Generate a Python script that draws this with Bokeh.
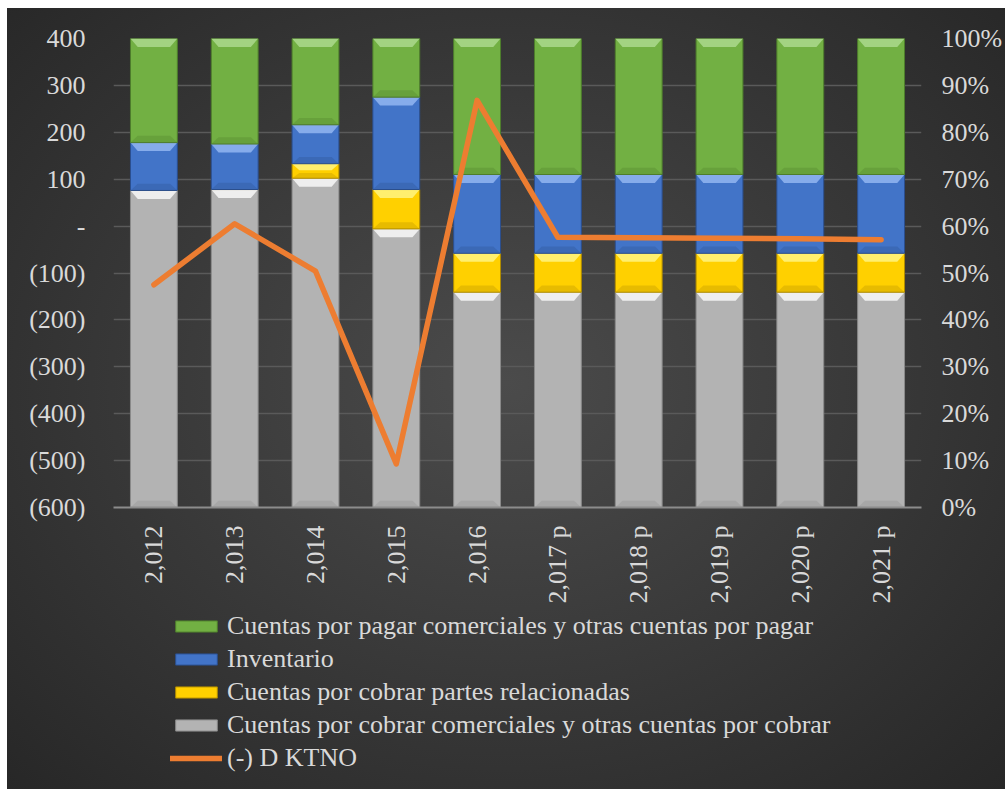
from bokeh.plotting import figure
from bokeh.models import (Range1d, LinearAxis, FixedTicker, FactorRange, Legend,
                          LegendItem, ColumnDataSource)
from bokeh.layouts import column
from bokeh.embed import file_html
from bokeh.resources import INLINE
import math

# ---------------- data ----------------
years = ["2,012", "2,013", "2,014", "2,015", "2,016",
         "2,017 p", "2,018 p", "2,019 p", "2,020 p", "2,021 p"]
# 100% stacked shares (percent of each bar), bottom to top
cxc_comerciales = [67.6, 67.8, 70.2, 59.4, 45.9, 45.9, 45.9, 45.9, 45.9, 45.9]
cxc_relacionadas = [0.0, 0.0, 3.1, 8.4, 8.3, 8.3, 8.3, 8.3, 8.3, 8.3]
inventario = [10.2, 9.7, 8.3, 19.7, 16.8, 16.8, 16.8, 16.8, 16.8, 16.8]
cxp_comerciales = [22.2, 22.5, 18.4, 12.5, 29.0, 29.0, 29.0, 29.0, 29.0, 29.0]
# (-) D KTNO on the left axis
ktno = [-125, 5, -96, -507, 268, -24, -25, -26, -27, -29]

left_ticks = [-600, -500, -400, -300, -200, -100, 0, 100, 200, 300, 400]
left_labels = ["(600)", "(500)", "(400)", "(300)", "(200)", "(100)", "-",
               "100", "200", "300", "400"]
right_ticks = [0, 10, 20, 30, 40, 50, 60, 70, 80, 90, 100]
right_labels = ["0%", "10%", "20%", "30%", "40%", "50%", "60%", "70%", "80%",
                "90%", "100%"]

series = [
    ("Cuentas por cobrar comerciales y otras cuentas por cobrar", cxc_comerciales,
     "#b3b3b3", "#f4f4f4", "#8a8a8a"),
    ("Cuentas por cobrar partes relacionadas", cxc_relacionadas,
     "#ffd000", "#fff27a", "#b08c00"),
    ("Inventario", inventario, "#4274c8", "#8eb2ee", "#2b4f8f"),
    ("Cuentas por pagar comerciales y otras cuentas por pagar", cxp_comerciales,
     "#72b043", "#a9d78a", "#4e7d2c"),
]
line_name = "(-) D KTNO"
line_color = "#ed7d31"

FONT = "'Liberation Serif', 'Times New Roman', serif"
TXT = "#d9d9d9"

p = figure(x_range=FactorRange(*years), y_range=Range1d(-600, 400),
           frame_width=808, frame_height=469,
           output_backend="svg", toolbar_location=None,
           min_border_left=106, min_border_right=84, min_border_top=30,
           min_border_bottom=104)
p.background_fill_alpha = 0
p.border_fill_alpha = 0
p.outline_line_color = None
p.extra_y_ranges = {"pct": Range1d(0, 100)}

BW = 0.58
bottoms = [0.0] * len(years)
for name, vals, col, hi, edge in series:
    tops = [b + v for b, v in zip(bottoms, vals)]
    src = ColumnDataSource(dict(x=years, bottom=bottoms, top=tops))
    p.vbar(x="x", bottom="bottom", top="top", width=BW, source=src,
           fill_color=col, line_color=edge, line_width=1, y_range_name="pct")
    # bevel highlight (top chamfer) and darker bottom edge, derived from the data
    xs, ys, xs2, ys2 = [], [], [], []
    for c, b, t in zip(years, bottoms, tops):
        if t - b <= 0.05:
            continue
        h = min(1.8, (t - b) * 0.45)
        d = 0.09
        xs.append([(c, -BW / 2), (c, BW / 2), (c, BW / 2 - d), (c, -BW / 2 + d)])
        ys.append([t, t, t - h, t - h])
        xs2.append([(c, -BW / 2), (c, BW / 2), (c, BW / 2 - d), (c, -BW / 2 + d)])
        ys2.append([b, b, b + h * 0.8, b + h * 0.8])
    p.patches(xs, ys, fill_color=hi, line_color=None, fill_alpha=0.9, y_range_name="pct")
    p.patches(xs2, ys2, fill_color=edge, line_color=None, fill_alpha=0.3, y_range_name="pct")
    bottoms = tops

p.line(x=years, y=ktno, line_color=line_color, line_width=5.5,
       line_join="round", line_cap="round")

# axes
p.yaxis.ticker = FixedTicker(ticks=left_ticks)
p.yaxis.major_label_overrides = dict(zip(left_ticks, left_labels))
p.yaxis.axis_line_color = None
p.yaxis.major_tick_line_color = None
p.yaxis.minor_tick_line_color = None
p.yaxis.major_label_standoff = 22
p.yaxis.major_label_text_font = FONT
p.yaxis.major_label_text_font_size = "26px"
p.yaxis.major_label_text_color = TXT

ra = LinearAxis(y_range_name="pct", ticker=FixedTicker(ticks=right_ticks))
ra.major_label_overrides = dict(zip(right_ticks, right_labels))
ra.axis_line_color = None
ra.major_tick_line_color = None
ra.minor_tick_line_color = None
ra.major_label_standoff = 14
ra.major_label_text_font = FONT
ra.major_label_text_font_size = "26px"
ra.major_label_text_color = TXT
p.add_layout(ra, "right")

p.xaxis.major_label_orientation = math.pi / 2
p.xaxis.axis_line_color = "#8c8c8c"
p.xaxis.axis_line_width = 2
p.xaxis.major_tick_line_color = None
p.xaxis.minor_tick_line_color = None
p.xaxis.major_label_standoff = 12
p.xaxis.major_label_text_font = FONT
p.xaxis.major_label_text_font_size = "26px"
p.xaxis.major_label_text_color = TXT

p.xgrid.grid_line_color = None
p.ygrid.grid_line_color = "#5a5a5a"
p.ygrid.grid_line_width = 1.5

# ---------------- legend panel (frame aligned with the chart's frame) ----------------
q = figure(width=998, height=178, x_range=Range1d(0, 1), y_range=Range1d(0, 1),
           output_backend="svg", toolbar_location=None, min_border=0)
q.background_fill_alpha = 0
q.border_fill_alpha = 0
q.outline_line_color = None
q.axis.visible = False
q.grid.visible = False

# legend proxies: one point each, placed outside the visible range
items = []
for name, vals, col, hi, edge in reversed(series):
    r = q.vbar(x=[-5], bottom=[-6], top=[-5], width=0.5, fill_color=col,
               line_color=edge, line_width=1)
    items.append(LegendItem(label=name, renderers=[r]))
lr = q.line(x=[-5, -4], y=[-5, -5], line_color=line_color, line_width=5.5,
            line_cap="round")
items.append(LegendItem(label=line_name, renderers=[lr]))

leg = Legend(items=items, location=(57, 16), orientation="vertical",
             background_fill_alpha=0, border_line_color=None,
             label_text_font=FONT, label_text_font_size="26px",
             label_text_color=TXT, glyph_width=52, glyph_height=14,
             label_standoff=5, spacing=3, padding=0, margin=0,
             label_height=30)
q.add_layout(leg, "center")

layout = column(p, q, spacing=0)
layout.margin = (8, 0, 0, 7)
layout.styles = {"background": "radial-gradient(ellipse at 50% 48%, #4b4b4b 0%, #3b3b3b 45%, #272727 100%)"}

open("out.html", "w").write(file_html(layout, INLINE))
